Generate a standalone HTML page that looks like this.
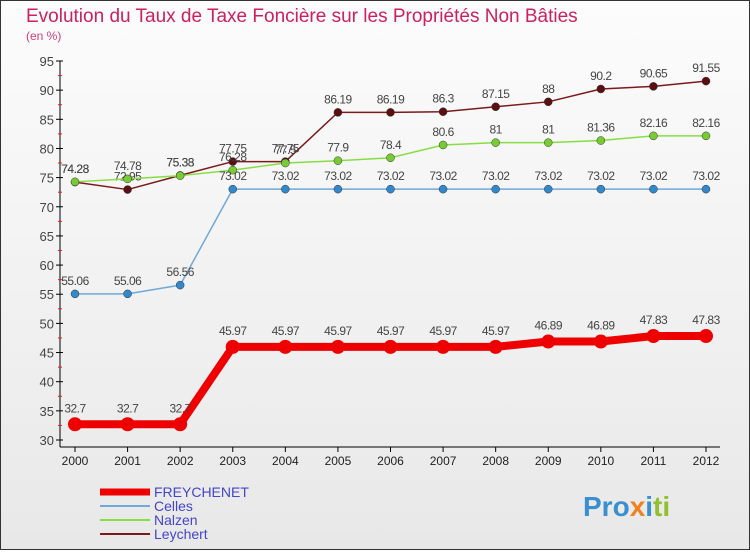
<!DOCTYPE html>
<html><head><meta charset="utf-8"><style>
body{margin:0;width:750px;height:550px;overflow:hidden;font-family:"Liberation Sans",sans-serif}
</style></head><body>
<svg width="750" height="550" xmlns="http://www.w3.org/2000/svg">
<defs><linearGradient id="bg" x1="0" y1="0" x2="0" y2="1"><stop offset="0" stop-color="#fcfcfc"/><stop offset="1" stop-color="#e8e8e8"/></linearGradient></defs>
<rect x="0.5" y="0.5" width="749" height="549" fill="url(#bg)" stroke="#333"/>
<text x="26" y="22" font-size="19" fill="#cc2060">Evolution du Taux de Taxe Foncière sur les Propriétés Non Bâties</text>
<text x="26" y="40" font-size="12" fill="#cc4080">(en %)</text>
<g id="axes"></g>
<g id="series"></g>
<g id="legend"></g>
<text x="583" y="516" font-size="28" font-weight="bold" fill="#3a8fd0">Pro<tspan fill="#f08020">x</tspan><tspan fill="#3a8fd0">i</tspan><tspan fill="#90c030">ti</tspan></text>
</svg>
<script>
const years=[2000,2001,2002,2003,2004,2005,2006,2007,2008,2009,2010,2011,2012];
const yTicks=[30,35,40,45,50,55,60,65,70,75,80,85,90,95];
const freychenet=[32.7,32.7,32.7,45.97,45.97,45.97,45.97,45.97,45.97,46.89,46.89,47.83,47.83];
const celles=[55.06,55.06,56.56,73.02,73.02,73.02,73.02,73.02,73.02,73.02,73.02,73.02,73.02];
const nalzen=[74.28,74.78,75.33,76.28,77.5,77.9,78.4,80.6,81,81,81.36,82.16,82.16];
const leychert=[74.23,72.95,75.38,77.75,77.75,86.19,86.19,86.3,87.15,88,90.2,90.65,91.55];
const NS="http://www.w3.org/2000/svg";
const X=i=>75+i*(706-75)/(years.length-1);
const Y=v=>440-(v-30)*(440-61)/65;
function mk(t,a,p){const e=document.createElementNS(NS,t);for(const k in a)e.setAttribute(k,a[k]);p.appendChild(e);return e;}
const ax=document.getElementById('axes');
const yl=mk('line',{x1:60,y1:61,x2:60,y2:447,stroke:'#000'},ax);


const xl=mk('line',{x1:60,y1:447,x2:720,y2:447,stroke:'#000'},ax);


yTicks.forEach(v=>{
  mk('line',{x1:56,y1:Y(v),x2:63,y2:Y(v),stroke:'#000'},ax);
  if(v<95) mk('line',{x1:58,y1:Y(v+2.5),x2:62,y2:Y(v+2.5),stroke:'#e02020'},ax);
  const t=mk('text',{x:54,y:Y(v)+5,'font-size':13,fill:'#444','text-anchor':'end'},ax);
  t.textContent=v;
  
  
});
years.forEach((y,i)=>{
  mk('line',{x1:X(i),y1:447,x2:X(i),y2:452,stroke:'#000'},ax);
  const t=mk('text',{x:X(i),y:465,'font-size':12,fill:'#222','text-anchor':'middle'},ax);
  t.textContent=y;
  
  
});
const sg=document.getElementById('series');
const defs=[
 {d:leychert,c:'#7a1a1a',dot:'#5a1010',w:1.5,r:4,n:'leychert'},
 {d:nalzen,c:'#88dd44',dot:'#77cc33',w:1.5,r:4,n:'nalzen'},
 {d:celles,c:'#70a8d8',dot:'#3388cc',w:1.5,r:4,n:'celles'},
 {d:freychenet,c:'#ee0000',dot:'#ee0000',w:8,r:7,n:'freychenet'}];
defs.forEach(s=>{
  const g=mk('g',{},sg);
  
  
  const pl=mk('polyline',{points:s.d.map((v,i)=>X(i)+','+Y(v)).join(' '),fill:'none',stroke:s.c,'stroke-width':s.w,'stroke-linejoin':'round'},g);
  
  
  s.d.forEach((v,i)=>{
    const c=mk('circle',{cx:X(i),cy:Y(v),r:s.r,fill:s.dot,stroke:s.n=='freychenet'?'none':'#333','stroke-width':0.5},g);
    
    
    const t=mk('text',{x:X(i),y:Y(v)-(s.n=='freychenet'?12:9),'font-size':12,fill:'#444','text-anchor':'middle','letter-spacing':'-0.5'},g);
    t.textContent=v;
    
    
  });
});
const lg=document.getElementById('legend');
const leg=[['FREYCHENET','#ee0000',7],['Celles','#70a8d8',2],['Nalzen','#88dd44',2],['Leychert','#7a1a1a',2]];
leg.forEach((l,i)=>{
  const y=492+i*14;
  const g=mk('g',{},lg);
  
  
  mk('line',{x1:100,y1:y,x2:150,y2:y,stroke:l[1],'stroke-width':l[2]},g);
  const t=mk('text',{x:154,y:y+5,'font-size':14,fill:'#4444cc'},g);
  t.textContent=l[0];
});
</script>
</body></html>
